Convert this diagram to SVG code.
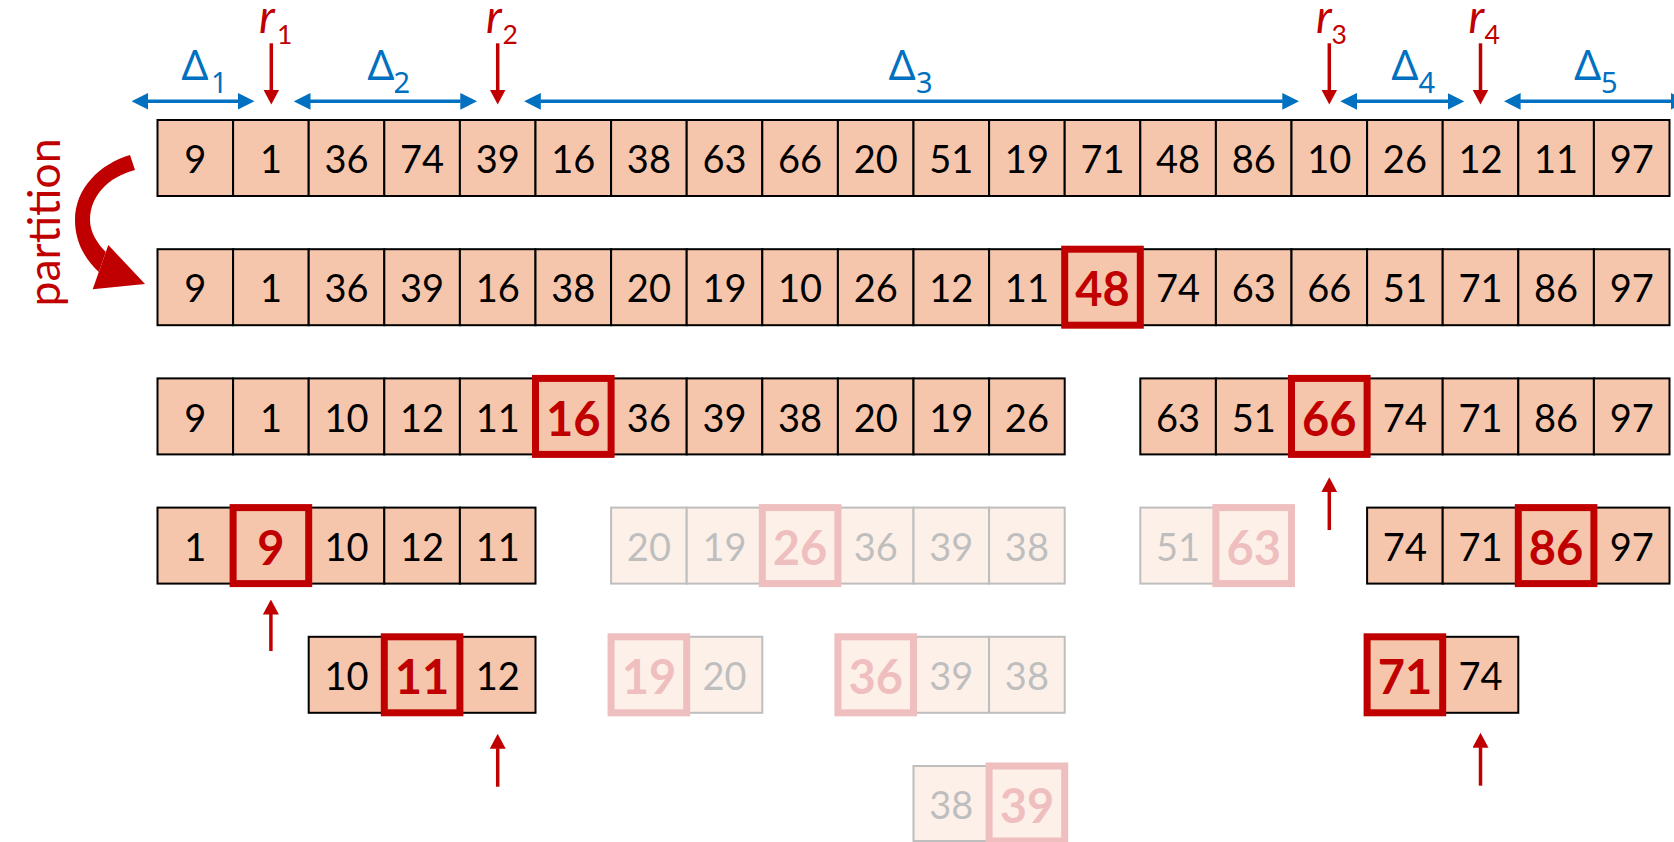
<svg xmlns="http://www.w3.org/2000/svg" width="1674" height="842" viewBox="0 0 1674 842">
<style>
.c{fill:#F6C6AC;stroke:#000;stroke-width:2}
.h{fill:none;stroke:#C00000;stroke-width:7}
.n{font-family:Lato,'Liberation Sans',sans-serif;font-size:38px;text-anchor:middle;fill:#000}
.b{font-family:Lato,'Liberation Sans',sans-serif;font-size:47px;font-weight:700;text-anchor:middle;fill:#C00000}
.f{opacity:0.25}
.d{font-family:'Noto Sans','DejaVu Sans',sans-serif;font-size:42px;fill:#0070C0}
.ds{font-family:'Noto Sans','DejaVu Sans',sans-serif;font-size:29px;fill:#0070C0}
.r{font-family:Lato,'Liberation Sans',sans-serif;font-style:italic;font-size:46px;fill:#C00000}
.rs{font-family:Lato,'Liberation Sans',sans-serif;font-size:26.5px;fill:#C00000}
.ba{stroke:#0070C0;stroke-width:3.5;fill:none;marker-start:url(#bh);marker-end:url(#bh)}
.ra{stroke:#C00000;stroke-width:3.5;fill:none;marker-end:url(#rh)}
</style>
<defs>
<marker id="bh" markerUnits="userSpaceOnUse" viewBox="0 0 16.7 16.7" markerWidth="16.7" markerHeight="16.7" refX="0.5" refY="8.35" orient="auto-start-reverse"><path d="M0 0L16.7 8.35L0 16.7z" fill="#0070C0"/></marker>
<marker id="rh" markerUnits="userSpaceOnUse" viewBox="0 0 15 16" markerWidth="15" markerHeight="16" refX="0.5" refY="8" orient="auto"><path d="M0 0L15 8L0 16z" fill="#C00000"/></marker>
</defs>

<g id="labels">
<text class="d" x="181.5" y="80">Δ</text><text class="ds" x="211" y="92.7">1</text>
<text class="d" x="367.5" y="80">Δ</text><text class="ds" x="393.5" y="92.7">2</text>
<text class="d" x="888.8" y="80">Δ</text><text class="ds" x="916" y="92.7">3</text>
<text class="d" x="1391.5" y="80">Δ</text><text class="ds" x="1418.5" y="92.7">4</text>
<text class="d" x="1574.2" y="80">Δ</text><text class="ds" x="1601" y="92.7">5</text>
<text class="r" x="259" y="33.3">r</text><text class="rs" x="277" y="44">1</text>
<text class="r" x="486" y="33.3">r</text><text class="rs" x="502.5" y="44">2</text>
<text class="r" x="1316" y="33.3">r</text><text class="rs" x="1331.5" y="44">3</text>
<text class="r" x="1468.5" y="33.3">r</text><text class="rs" x="1484.5" y="44">4</text>
<text transform="translate(60,222.5) rotate(-90)" text-anchor="middle" font-family="Lato,'Liberation Sans',sans-serif" font-size="44" fill="#C00000" textLength="168" lengthAdjust="spacingAndGlyphs">partition</text>
</g>

<g id="connectors">
<line class="ba" x1="147.7" y1="101.3" x2="238.3" y2="101.3"/>
<line class="ba" x1="310" y1="101.3" x2="460.8" y2="101.3"/>
<line class="ba" x1="540.3" y1="101.3" x2="1282.8" y2="101.3"/>
<line class="ba" x1="1356.5" y1="101.3" x2="1448.1" y2="101.3"/>
<line class="ba" x1="1520.1" y1="101.3" x2="1671.3" y2="101.3"/>
<line class="ra" x1="271.3" y1="43.3" x2="271.3" y2="90"/>
<line class="ra" x1="497.7" y1="43.3" x2="497.7" y2="90"/>
<line class="ra" x1="1329.3" y1="43.3" x2="1329.3" y2="90"/>
<line class="ra" x1="1480.5" y1="43.3" x2="1480.5" y2="90"/>
<line class="ra" x1="1329.3" y1="530" x2="1329.3" y2="491.7"/>
<line class="ra" x1="270.9" y1="651" x2="270.9" y2="614"/>
<line class="ra" x1="497.7" y1="786.7" x2="497.7" y2="748.3"/>
<line class="ra" x1="1480.5" y1="785.7" x2="1480.5" y2="747.3"/>
<path d="M130 155C100 164 75 188 75 220C75 240 83 257 98.8 272L105.8 252C97 243 90 232 90 220C90 196 108 177 135 170Z" fill="#C00000"/>
<path d="M108.3 245L145 284L92.7 289.3Z" fill="#C00000"/>
</g>

<g id="row1" transform="translate(0,120)">
<rect class="c" x="157.5" y="0" width="75.6" height="76"/><rect class="c" x="233.1" y="0" width="75.6" height="76"/><rect class="c" x="308.7" y="0" width="75.6" height="76"/><rect class="c" x="384.3" y="0" width="75.6" height="76"/><rect class="c" x="459.9" y="0" width="75.6" height="76"/><rect class="c" x="535.5" y="0" width="75.6" height="76"/><rect class="c" x="611.1" y="0" width="75.6" height="76"/><rect class="c" x="686.7" y="0" width="75.6" height="76"/><rect class="c" x="762.3" y="0" width="75.6" height="76"/><rect class="c" x="837.9" y="0" width="75.6" height="76"/><rect class="c" x="913.5" y="0" width="75.6" height="76"/><rect class="c" x="989.1" y="0" width="75.6" height="76"/><rect class="c" x="1064.7" y="0" width="75.6" height="76"/><rect class="c" x="1140.3" y="0" width="75.6" height="76"/><rect class="c" x="1215.9" y="0" width="75.6" height="76"/><rect class="c" x="1291.5" y="0" width="75.6" height="76"/><rect class="c" x="1367.1" y="0" width="75.6" height="76"/><rect class="c" x="1442.7" y="0" width="75.6" height="76"/><rect class="c" x="1518.3" y="0" width="75.6" height="76"/><rect class="c" x="1593.9" y="0" width="75.6" height="76"/>
<text class="n" x="195.3" y="53.2">9</text><text class="n" x="270.9" y="53.2">1</text><text class="n" x="346.5" y="53.2">36</text><text class="n" x="422.1" y="53.2">74</text><text class="n" x="497.7" y="53.2">39</text><text class="n" x="573.3" y="53.2">16</text><text class="n" x="648.9" y="53.2">38</text><text class="n" x="724.5" y="53.2">63</text><text class="n" x="800.1" y="53.2">66</text><text class="n" x="875.7" y="53.2">20</text><text class="n" x="951.3" y="53.2">51</text><text class="n" x="1026.9" y="53.2">19</text><text class="n" x="1102.5" y="53.2">71</text><text class="n" x="1178.1" y="53.2">48</text><text class="n" x="1253.7" y="53.2">86</text><text class="n" x="1329.3" y="53.2">10</text><text class="n" x="1404.9" y="53.2">26</text><text class="n" x="1480.5" y="53.2">12</text><text class="n" x="1556.1" y="53.2">11</text><text class="n" x="1631.7" y="53.2">97</text>
</g>

<g id="row2" transform="translate(0,249.2)">
<rect class="c" x="157.5" y="0" width="75.6" height="76"/><rect class="c" x="233.1" y="0" width="75.6" height="76"/><rect class="c" x="308.7" y="0" width="75.6" height="76"/><rect class="c" x="384.3" y="0" width="75.6" height="76"/><rect class="c" x="459.9" y="0" width="75.6" height="76"/><rect class="c" x="535.5" y="0" width="75.6" height="76"/><rect class="c" x="611.1" y="0" width="75.6" height="76"/><rect class="c" x="686.7" y="0" width="75.6" height="76"/><rect class="c" x="762.3" y="0" width="75.6" height="76"/><rect class="c" x="837.9" y="0" width="75.6" height="76"/><rect class="c" x="913.5" y="0" width="75.6" height="76"/><rect class="c" x="989.1" y="0" width="75.6" height="76"/><rect class="c" x="1064.7" y="0" width="75.6" height="76"/><rect class="c" x="1140.3" y="0" width="75.6" height="76"/><rect class="c" x="1215.9" y="0" width="75.6" height="76"/><rect class="c" x="1291.5" y="0" width="75.6" height="76"/><rect class="c" x="1367.1" y="0" width="75.6" height="76"/><rect class="c" x="1442.7" y="0" width="75.6" height="76"/><rect class="c" x="1518.3" y="0" width="75.6" height="76"/><rect class="c" x="1593.9" y="0" width="75.6" height="76"/>
<rect class="h" x="1064.7" y="0" width="75.6" height="76"/>
<text class="n" x="195.3" y="53.2">9</text><text class="n" x="270.9" y="53.2">1</text><text class="n" x="346.5" y="53.2">36</text><text class="n" x="422.1" y="53.2">39</text><text class="n" x="497.7" y="53.2">16</text><text class="n" x="573.3" y="53.2">38</text><text class="n" x="648.9" y="53.2">20</text><text class="n" x="724.5" y="53.2">19</text><text class="n" x="800.1" y="53.2">10</text><text class="n" x="875.7" y="53.2">26</text><text class="n" x="951.3" y="53.2">12</text><text class="n" x="1026.9" y="53.2">11</text><text class="b" x="1102.5" y="57.2">48</text><text class="n" x="1178.1" y="53.2">74</text><text class="n" x="1253.7" y="53.2">63</text><text class="n" x="1329.3" y="53.2">66</text><text class="n" x="1404.9" y="53.2">51</text><text class="n" x="1480.5" y="53.2">71</text><text class="n" x="1556.1" y="53.2">86</text><text class="n" x="1631.7" y="53.2">97</text>
</g>

<g id="row3-left" transform="translate(0,378.4)">
<rect class="c" x="157.5" y="0" width="75.6" height="76"/><rect class="c" x="233.1" y="0" width="75.6" height="76"/><rect class="c" x="308.7" y="0" width="75.6" height="76"/><rect class="c" x="384.3" y="0" width="75.6" height="76"/><rect class="c" x="459.9" y="0" width="75.6" height="76"/><rect class="c" x="535.5" y="0" width="75.6" height="76"/><rect class="c" x="611.1" y="0" width="75.6" height="76"/><rect class="c" x="686.7" y="0" width="75.6" height="76"/><rect class="c" x="762.3" y="0" width="75.6" height="76"/><rect class="c" x="837.9" y="0" width="75.6" height="76"/><rect class="c" x="913.5" y="0" width="75.6" height="76"/><rect class="c" x="989.1" y="0" width="75.6" height="76"/>
<rect class="h" x="535.5" y="0" width="75.6" height="76"/>
<text class="n" x="195.3" y="53.2">9</text><text class="n" x="270.9" y="53.2">1</text><text class="n" x="346.5" y="53.2">10</text><text class="n" x="422.1" y="53.2">12</text><text class="n" x="497.7" y="53.2">11</text><text class="b" x="573.3" y="57.2">16</text><text class="n" x="648.9" y="53.2">36</text><text class="n" x="724.5" y="53.2">39</text><text class="n" x="800.1" y="53.2">38</text><text class="n" x="875.7" y="53.2">20</text><text class="n" x="951.3" y="53.2">19</text><text class="n" x="1026.9" y="53.2">26</text>
</g>

<g id="row3-right" transform="translate(0,378.4)">
<rect class="c" x="1140.3" y="0" width="75.6" height="76"/><rect class="c" x="1215.9" y="0" width="75.6" height="76"/><rect class="c" x="1291.5" y="0" width="75.6" height="76"/><rect class="c" x="1367.1" y="0" width="75.6" height="76"/><rect class="c" x="1442.7" y="0" width="75.6" height="76"/><rect class="c" x="1518.3" y="0" width="75.6" height="76"/><rect class="c" x="1593.9" y="0" width="75.6" height="76"/>
<rect class="h" x="1291.5" y="0" width="75.6" height="76"/>
<text class="n" x="1178.1" y="53.2">63</text><text class="n" x="1253.7" y="53.2">51</text><text class="b" x="1329.3" y="57.2">66</text><text class="n" x="1404.9" y="53.2">74</text><text class="n" x="1480.5" y="53.2">71</text><text class="n" x="1556.1" y="53.2">86</text><text class="n" x="1631.7" y="53.2">97</text>
</g>

<g id="row4-a" transform="translate(0,507.6)">
<rect class="c" x="157.5" y="0" width="75.6" height="76"/><rect class="c" x="233.1" y="0" width="75.6" height="76"/><rect class="c" x="308.7" y="0" width="75.6" height="76"/><rect class="c" x="384.3" y="0" width="75.6" height="76"/><rect class="c" x="459.9" y="0" width="75.6" height="76"/>
<rect class="h" x="233.1" y="0" width="75.6" height="76"/>
<text class="n" x="195.3" y="53.2">1</text><text class="b" x="270.9" y="57.2">9</text><text class="n" x="346.5" y="53.2">10</text><text class="n" x="422.1" y="53.2">12</text><text class="n" x="497.7" y="53.2">11</text>
</g>

<g id="row4-b" class="f" transform="translate(0,507.6)">
<rect class="c" x="611.1" y="0" width="75.6" height="76"/><rect class="c" x="686.7" y="0" width="75.6" height="76"/><rect class="c" x="762.3" y="0" width="75.6" height="76"/><rect class="c" x="837.9" y="0" width="75.6" height="76"/><rect class="c" x="913.5" y="0" width="75.6" height="76"/><rect class="c" x="989.1" y="0" width="75.6" height="76"/>
<rect class="h" x="762.3" y="0" width="75.6" height="76"/>
<text class="n" x="648.9" y="53.2">20</text><text class="n" x="724.5" y="53.2">19</text><text class="b" x="800.1" y="57.2">26</text><text class="n" x="875.7" y="53.2">36</text><text class="n" x="951.3" y="53.2">39</text><text class="n" x="1026.9" y="53.2">38</text>
</g>

<g id="row4-c" class="f" transform="translate(0,507.6)">
<rect class="c" x="1140.3" y="0" width="75.6" height="76"/><rect class="c" x="1215.9" y="0" width="75.6" height="76"/>
<rect class="h" x="1215.9" y="0" width="75.6" height="76"/>
<text class="n" x="1178.1" y="53.2">51</text><text class="b" x="1253.7" y="57.2">63</text>
</g>

<g id="row4-d" transform="translate(0,507.6)">
<rect class="c" x="1367.1" y="0" width="75.6" height="76"/><rect class="c" x="1442.7" y="0" width="75.6" height="76"/><rect class="c" x="1518.3" y="0" width="75.6" height="76"/><rect class="c" x="1593.9" y="0" width="75.6" height="76"/>
<rect class="h" x="1518.3" y="0" width="75.6" height="76"/>
<text class="n" x="1404.9" y="53.2">74</text><text class="n" x="1480.5" y="53.2">71</text><text class="b" x="1556.1" y="57.2">86</text><text class="n" x="1631.7" y="53.2">97</text>
</g>

<g id="row5-a" transform="translate(0,636.8)">
<rect class="c" x="308.7" y="0" width="75.6" height="76"/><rect class="c" x="384.3" y="0" width="75.6" height="76"/><rect class="c" x="459.9" y="0" width="75.6" height="76"/>
<rect class="h" x="384.3" y="0" width="75.6" height="76"/>
<text class="n" x="346.5" y="53.2">10</text><text class="b" x="422.1" y="57.2">11</text><text class="n" x="497.7" y="53.2">12</text>
</g>

<g id="row5-b" class="f" transform="translate(0,636.8)">
<rect class="c" x="611.1" y="0" width="75.6" height="76"/><rect class="c" x="686.7" y="0" width="75.6" height="76"/>
<rect class="h" x="611.1" y="0" width="75.6" height="76"/>
<text class="b" x="648.9" y="57.2">19</text><text class="n" x="724.5" y="53.2">20</text>
</g>

<g id="row5-c" class="f" transform="translate(0,636.8)">
<rect class="c" x="837.9" y="0" width="75.6" height="76"/><rect class="c" x="913.5" y="0" width="75.6" height="76"/><rect class="c" x="989.1" y="0" width="75.6" height="76"/>
<rect class="h" x="837.9" y="0" width="75.6" height="76"/>
<text class="b" x="875.7" y="57.2">36</text><text class="n" x="951.3" y="53.2">39</text><text class="n" x="1026.9" y="53.2">38</text>
</g>

<g id="row5-d" transform="translate(0,636.8)">
<rect class="c" x="1367.1" y="0" width="75.6" height="76"/><rect class="c" x="1442.7" y="0" width="75.6" height="76"/>
<rect class="h" x="1367.1" y="0" width="75.6" height="76"/>
<text class="b" x="1404.9" y="57.2">71</text><text class="n" x="1480.5" y="53.2">74</text>
</g>

<g id="row6" class="f" transform="translate(0,766)">
<rect class="c" x="913.5" y="0" width="75.6" height="75"/><rect class="c" x="989.1" y="0" width="75.6" height="75"/>
<rect class="h" x="989.1" y="0" width="75.6" height="75"/>
<text class="n" x="951.3" y="53.2">38</text><text class="b" x="1026.9" y="57.2">39</text>
</g>
</svg>
